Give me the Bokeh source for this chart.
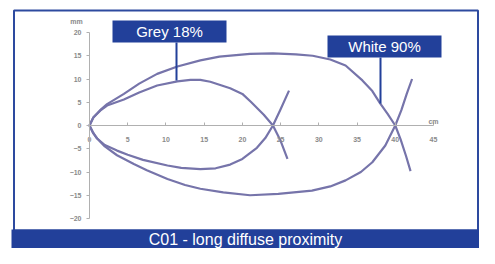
from bokeh.plotting import figure
from bokeh.models import Range1d, LinearAxis, FixedTicker, BoxAnnotation, Label
from bokeh.embed import file_html
from bokeh.resources import INLINE

# ---- data ----
grey_upper_x = [0, 0.5, 1.4, 2.3, 4.5, 6.5, 8.85, 11.5, 13.2, 14.5, 15.8, 18.4, 20.0, 21.1, 22.8, 24.0, 25.0, 25.9]
grey_upper_y = [0, 1.7, 3.2, 4.3, 5.6, 7.1, 8.6, 9.5, 9.8, 9.8, 9.4, 8.0, 6.8, 5.1, 2.3, 0, -3.3, -7.2]
grey_lower_x = [0, 0.5, 1.0, 2.0, 3.6, 5.0, 7.0, 10.2, 12.0, 14.5, 16.5, 18.4, 20.0, 21.9, 23.0, 24.0, 25.0, 26.1]
grey_lower_y = [0, -1.7, -2.8, -4.2, -5.4, -6.3, -7.4, -8.6, -9.1, -9.4, -9.2, -8.4, -7.2, -4.8, -2.7, 0, 3.5, 7.5]
white_upper_x = [0, 0.5, 1.4, 2.3, 4.5, 6.5, 8.85, 11.5, 14.5, 17, 21, 24, 27, 29.2, 31.5, 33.5, 35.7, 37, 38, 39, 40, 40.7, 41.4, 42]
white_upper_y = [0, 1.7, 3.3, 4.6, 6.8, 9.0, 11.1, 12.7, 14.0, 14.8, 15.4, 15.5, 15.3, 15.0, 14.2, 12.9, 9.7, 7.4, 4.8, 2.5, 0, -3, -6.5, -9.8]
white_lower_x = [0, 0.5, 1.0, 2.0, 3.6, 5.8, 7.5, 10.2, 12.5, 14.5, 17.5, 21.0, 24.7, 29.1, 31.5, 33.5, 35.5, 37.0, 38.7, 40.0, 40.8, 41.5, 42.2]
white_lower_y = [0, -1.6, -2.8, -4.5, -6.4, -8.3, -9.6, -11.5, -12.8, -13.6, -14.4, -15.0, -14.7, -14.0, -13.1, -11.8, -10.0, -7.9, -4.3, 0, 3.3, 6.8, 10.0]
x_ticks = [0, 5, 10, 15, 20, 25, 30, 35, 40, 45]
y_ticks = [-20, -15, -10, -5, 0, 5, 10, 15, 20]
labels = ["Grey 18%", "White 90%"]
title = "C01 - long diffuse proximity"

W, H = 479, 248
XPPU, YPPU = 7.644, 4.65          # pixels per unit
X0, Y0 = 89, 125                  # data origin in canvas pixels

def dx(px):  # canvas px -> data x
    return (px - X0) / XPPU

def dy(py):  # canvas py -> data y
    return (Y0 - py) / YPPU

p = figure(width=W, height=H, output_backend="svg", toolbar_location=None,
           x_range=Range1d(dx(0), dx(W)), y_range=Range1d(dy(H), dy(0)),
           x_axis_location=None, y_axis_location=None, min_border=0,
           background_fill_color="white", border_fill_color="white")
p.outline_line_color = None
p.grid.visible = False

AX = "#b0b0b0"
LBL = "#8a8a8a"
yaxis = LinearAxis(fixed_location=0, bounds=(-20, 20), ticker=FixedTicker(ticks=y_ticks),
                   axis_line_color=AX, major_tick_line_color=AX, minor_tick_line_color=None,
                   major_tick_in=0, major_tick_out=3, major_label_standoff=5,
                   major_label_text_font="Liberation Sans", major_label_text_font_size="7px",
                   major_label_text_font_style="bold", major_label_text_color=LBL)
p.add_layout(yaxis, "left")
xaxis = LinearAxis(fixed_location=0, bounds=(0, 45), ticker=FixedTicker(ticks=x_ticks),
                   axis_line_color=AX, major_tick_line_color=AX, minor_tick_line_color=None,
                   major_tick_in=3, major_tick_out=0, major_label_standoff=11,
                   major_label_text_font="Liberation Sans", major_label_text_font_size="7px",
                   major_label_text_font_style="bold", major_label_text_color=LBL)
p.add_layout(xaxis, "below")

p.add_layout(Label(x=dx(76), y=dy(21), text="mm", text_align="center", text_baseline="middle",
                   text_font="Liberation Sans", text_font_size="7px", text_font_style="bold",
                   text_color=LBL))
p.add_layout(Label(x=dx(433), y=dy(121), text="cm", text_align="center", text_baseline="middle",
                   text_font="Liberation Sans", text_font_size="7px", text_font_style="bold",
                   text_color=LBL))

CURVE = "#7674aa"
for xs, ys in [(grey_upper_x, grey_upper_y), (grey_lower_x, grey_lower_y),
               (white_upper_x, white_upper_y), (white_lower_x, white_lower_y)]:
    p.line(xs, ys, line_color=CURVE, line_width=2.2, line_join="round")

BLUE = "#22409a"
# frame border
p.add_layout(BoxAnnotation(left=dx(13.5), right=dx(477.5), top=dy(10), bottom=dy(230),
                           fill_alpha=0, line_color=BLUE, line_width=2, line_alpha=0.95))
# bottom banner
p.add_layout(BoxAnnotation(left=dx(11), right=dx(479), top=dy(229), bottom=dy(248),
                           fill_color=BLUE, fill_alpha=1, line_alpha=0))
p.add_layout(Label(x=dx(245), y=dy(238.5), text=title, text_align="center", text_baseline="middle",
                   text_font="Liberation Sans", text_font_size="16px", text_color="white"))

# callout boxes
for (l, r, t, b, px, py1, py2, txt) in [(112, 226, 20, 42, 176, 42, 80, labels[0]),
                                        (327, 441, 35, 57, 380, 57, 103, labels[1])]:
    p.segment(x0=[dx(px)], y0=[dy(py1)], x1=[dx(px)], y1=[dy(py2)], line_color=BLUE, line_width=2)
    p.add_layout(BoxAnnotation(left=dx(l), right=dx(r), top=dy(t), bottom=dy(b),
                               fill_color=BLUE, fill_alpha=1, line_alpha=0))
    p.add_layout(Label(x=dx((l + r) / 2), y=dy((t + b) / 2), text=txt, text_align="center",
                       text_baseline="middle", text_font="Liberation Sans", text_font_size="15px",
                       text_color="white"))

open("out.html", "w").write(file_html(p, INLINE))
